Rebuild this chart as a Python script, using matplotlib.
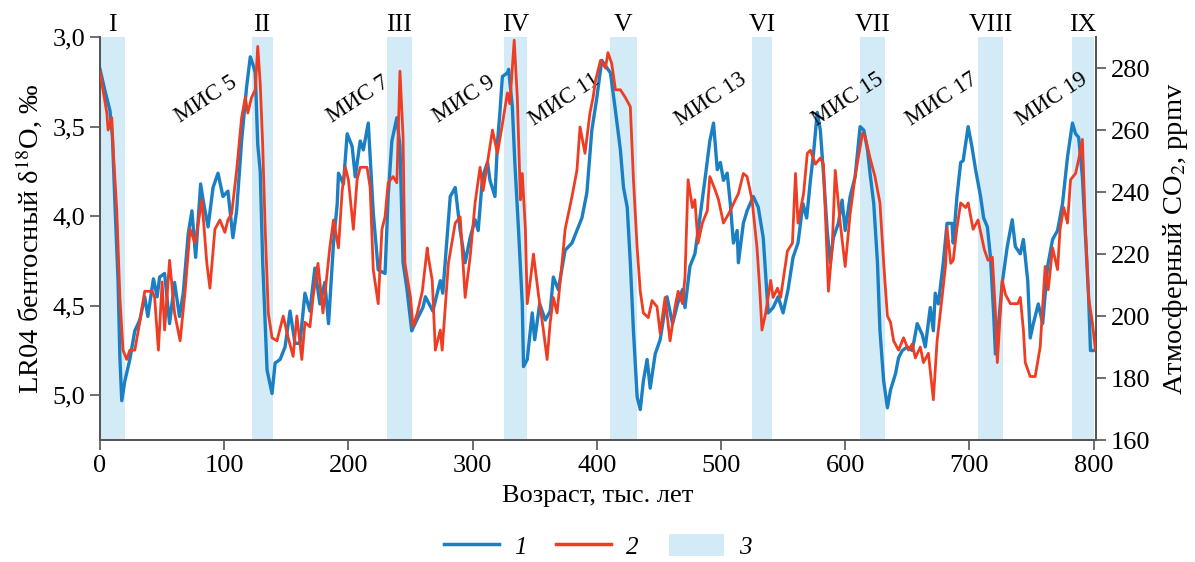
import matplotlib
matplotlib.use("Agg")
import matplotlib.pyplot as plt
from matplotlib.lines import Line2D
from matplotlib.patches import Patch
from matplotlib.ticker import FuncFormatter, MultipleLocator

# LR04 benthic d18O stack (blue, left axis, inverted)
blue_age = [0, 4, 8, 10, 12, 14.5, 16, 17.5, 20, 24, 28, 32, 36, 38.5, 43, 46, 48, 52, 56, 60,
            64, 67, 71, 74, 77, 81, 83, 87, 91, 95, 99, 103, 107, 110, 114, 118, 121, 123, 125, 127,
            129, 131, 134.5, 138.5, 141, 145, 149, 153, 157, 161, 165, 169, 173, 177, 181, 184, 188, 191, 192, 196,
            199, 203, 205.5, 209.5, 212, 216, 220, 224, 229.5, 232, 235, 239, 241.5, 244, 247, 251, 255, 260, 262, 268,
            274, 276, 282, 286, 290, 294, 298, 302, 304.5, 308, 312, 314, 318, 320, 322, 324, 328, 329, 332, 334,
            337, 340, 341, 344, 348, 350, 354, 358.5, 362.5, 365, 369, 374.5, 380, 384, 388, 392, 396, 400, 404, 408,
            411, 415, 419, 421.5, 424.5, 427, 429.5, 432.5, 435, 437.5, 440.5, 443, 447, 451, 453.5, 456.5, 461, 465, 469, 471,
            475, 479, 483, 487, 491, 494, 497, 499.5, 502, 505, 507.5, 510, 513, 514, 518, 521, 526, 530, 534, 538,
            542, 546, 550, 554, 558, 562, 566, 569, 572, 574.5, 577.5, 580, 582.5, 585.5, 588, 590.5, 594.5, 597.5, 600, 604,
            608, 612, 615, 618, 620, 623, 626, 628, 631, 634, 636.5, 640.5, 643, 646, 650, 654, 658, 662, 664.5, 668.5,
            671, 672.5, 675, 679, 682, 686, 687, 690, 693, 695, 699, 702, 705, 709, 711.5, 714.5, 717, 719.5, 721, 723.5,
            726.5, 730.5, 734.5, 737, 741, 743.5, 747, 749, 751.5, 755.5, 759, 763, 767, 771, 775, 779, 783, 785.5, 788, 791,
            793.5, 796, 797.5, 801.5]
blue_d18o = [3.18, 3.30, 3.41, 3.56, 3.93, 4.36, 4.79, 5.03, 4.92, 4.80, 4.64, 4.58, 4.45, 4.56, 4.35, 4.45, 4.34, 4.32, 4.60, 4.37,
             4.56, 4.43, 4.10, 3.97, 4.23, 3.82, 3.91, 4.06, 3.84, 3.76, 3.89, 3.86, 4.12, 3.97, 3.58, 3.28, 3.11, 3.15, 3.20, 3.60,
             3.75, 4.26, 4.86, 4.99, 4.82, 4.80, 4.73, 4.53, 4.71, 4.71, 4.43, 4.53, 4.29, 4.49, 4.37, 4.60, 4.15, 3.93, 3.76, 3.82,
             3.54, 3.61, 3.78, 3.58, 3.63, 3.48, 3.98, 4.30, 4.32, 3.89, 3.58, 3.45, 3.61, 4.26, 4.40, 4.64, 4.58, 4.51, 4.45, 4.53,
             4.36, 4.43, 3.89, 3.84, 4.08, 4.26, 4.12, 4.02, 4.08, 3.78, 3.70, 3.80, 3.89, 3.59, 3.42, 3.22, 3.20, 3.18, 3.39, 3.70,
             4.08, 4.49, 4.84, 4.80, 4.54, 4.69, 4.49, 4.58, 4.53, 4.34, 4.41, 4.19, 4.15, 4.08, 4.01, 3.87, 3.52, 3.34, 3.13, 3.17,
             3.20, 3.41, 3.63, 3.84, 3.95, 4.26, 4.64, 5.01, 5.08, 4.92, 4.80, 4.96, 4.77, 4.69, 4.58, 4.45, 4.60, 4.49, 4.41, 4.51,
             4.28, 4.21, 4.01, 3.80, 3.58, 3.48, 3.74, 3.70, 3.80, 3.76, 3.93, 4.15, 4.08, 4.26, 4.04, 3.97, 3.89, 3.95, 4.12, 4.54,
             4.51, 4.45, 4.54, 4.41, 4.23, 4.15, 3.93, 4.01, 3.80, 3.65, 3.42, 3.52, 3.76, 4.08, 4.26, 4.12, 4.04, 3.91, 4.08, 3.89,
             3.78, 3.50, 3.52, 3.63, 3.76, 3.93, 4.26, 4.64, 4.92, 5.07, 4.97, 4.88, 4.79, 4.75, 4.73, 4.75, 4.60, 4.66, 4.73, 4.51,
             4.64, 4.43, 4.49, 4.26, 4.04, 4.04, 4.15, 3.89, 3.70, 3.69, 3.50, 3.61, 3.74, 3.89, 4.01, 4.06, 4.23, 4.54, 4.77, 4.60,
             4.37, 4.17, 4.02, 4.17, 4.21, 4.13, 4.36, 4.68, 4.60, 4.49, 4.60, 4.28, 4.13, 4.08, 3.93, 3.67, 3.48, 3.54, 3.56, 3.78,
             4.12, 4.45, 4.75, 4.75]

# atmospheric CO2 (red, right axis)
red_age = [0, 5.5, 6.5, 9.5, 10.5, 13.5, 16, 18.5, 21.5, 24, 28, 32, 36, 42, 44, 47, 50, 52, 56, 60,
           64.5, 68.5, 72.5, 76.5, 82, 86, 88.5, 92.5, 96.5, 100.5, 103, 106, 110, 114, 117, 119, 122, 125, 127, 129,
           131, 133, 135.5, 138.5, 142.5, 147.5, 151.5, 155.5, 158.5, 162.5, 165, 169, 171.5, 175.5, 179.5, 185, 188, 192, 195, 197.5,
           200, 204, 207, 209.5, 215, 217.5, 220, 224, 227, 229.5, 232, 236, 239, 241.5, 244, 245.5, 250, 252, 255.5, 259.5,
           263.5, 264, 267.5, 270, 274, 275.5, 280.5, 286, 290, 294, 298, 302, 306, 308.5, 312.5, 316, 320, 324, 328, 330,
           333.5, 336, 338.5, 340, 342.5, 344, 346.5, 349, 353, 357, 360, 362.5, 365, 368, 372, 374.5, 380, 384, 386.5, 390.5,
           394.5, 397, 399, 403, 407, 409, 412, 415, 419, 423, 427, 429.5, 432.5, 435, 437.5, 441.5, 444.5, 448.5, 451, 455,
           459, 463, 465.5, 469, 471, 473.5, 477, 479, 481.5, 485, 489, 491, 495.5, 498, 502, 507.5, 511.5, 514, 518, 521,
           525, 529, 531, 533, 536, 540, 542, 545.5, 548, 553.5, 557.5, 560, 562, 566.5, 569.5, 572, 576, 580, 582.5, 586.5,
           589.5, 592, 596, 600, 604, 608, 610.5, 614, 616, 620, 624, 628, 631, 634, 636.5, 639, 643, 647, 651, 654,
           656.5, 660.5, 663, 667, 671, 674, 678, 681, 682, 685, 687, 690, 693, 697, 699, 703, 707, 712, 715, 718.5,
           721, 722.5, 726.5, 729, 733, 739, 741, 743.5, 745, 749, 753, 757, 761, 763.5, 767, 771, 773, 776, 779, 781.5,
           785.5, 788, 791, 793.5, 796, 799, 801.5]
red_co2 = [278.7, 265.5, 260, 264, 254.5, 234, 206, 189, 186, 189, 189, 198, 208, 208, 206, 189, 211, 195.5, 218, 201,
           192, 208, 228, 223.5, 237.5, 217, 209, 228, 231, 227, 231, 233, 247, 264, 270.5, 265.5, 270.5, 273, 287, 275,
           255, 228, 201, 193, 192, 200, 193, 187, 200, 186, 198, 196.5, 206, 217, 201, 222, 231, 222, 240.5, 248,
           244, 228, 244, 248, 248, 241.5, 215, 204, 228, 232, 243, 245, 243, 279, 258, 217, 206, 196.5, 201, 208,
           222, 220, 211.5, 189, 195.5, 189, 217, 230, 232, 206, 219, 236.5, 248, 240.5, 251, 260, 252.5, 262, 272, 268.5,
           289, 270.5, 237.5, 246, 228, 204, 211.5, 220, 207, 195.5, 186, 198, 206, 201, 217, 228, 238.5, 247, 261, 252.5,
           265.5, 270.5, 276, 282.5, 280, 285, 281.5, 273, 273, 270.5, 267.5, 244, 222, 208, 201, 199.5, 205, 203, 194.5, 206,
           192, 203, 208, 204, 212.5, 244, 235, 237.5, 223.5, 230, 234, 245, 240.5, 237.5, 230, 234, 237.5, 239.5, 246, 245,
           237.5, 222, 210, 195.5, 201, 211.5, 206, 209, 206, 221, 223.5, 246, 230, 239.5, 252.5, 253.5, 249, 251, 249, 208,
           222, 247, 230, 216, 233, 245, 251, 259, 258, 251, 245, 236.5, 217, 200, 198, 192, 189, 193, 189, 191,
           186.5, 190, 185, 188, 173, 192, 206, 217, 228.5, 217, 218, 228.5, 236.5, 235, 236.5, 228, 231, 221.5, 218, 219,
           201, 185, 211.5, 207, 204, 204, 206, 195.5, 185, 180.5, 180.5, 190, 216, 208.5, 222, 215, 228, 235, 230, 244,
           246, 250.5, 257, 228, 206, 198, 189]

# interglacials (shaded bands) and labels
band_start = [0, 122, 231, 325, 411, 525, 612, 707, 783]
band_end = [20, 139, 251, 344, 432, 541, 632, 727, 800]
band_names = ["I", "II", "III", "IV", "V", "VI", "VII", "VIII", "IX"]

mis_names = ["МИС 5", "МИС 7", "МИС 9", "МИС 11", "МИС 13", "МИС 15", "МИС 17", "МИС 19"]
mis_age = [85, 208, 293, 374, 492, 602, 678, 766]

BLUE = "#1a7fc3"
RED = "#ee3d22"
SHADE = "#d3ebf7"
SPINE = "#555555"

plt.rcParams["font.family"] = ["Liberation Serif", "DejaVu Serif"]
plt.rcParams["mathtext.fontset"] = "stix"

fig = plt.figure(figsize=(11.95, 5.62), dpi=100)
ax = fig.add_axes([0.0837, 0.217, 0.8335, 0.717])
ax2 = ax.twinx()

for s, e in zip(band_start, band_end):
    ax.axvspan(s, e, color=SHADE, lw=0, zorder=0)
for s, e, name in zip(band_start, band_end, band_names):
    ax.text((s + e) / 2, 1.003, name, transform=ax.get_xaxis_transform(),
            ha="center", va="bottom", fontsize=18.5)

ax.plot(blue_age, blue_d18o, color=BLUE, lw=2.4, zorder=2)
ax2.plot(red_age, red_co2, color=RED, lw=2.0, zorder=3)

for name, a in zip(mis_names, mis_age):
    ax.text(a, 3.35, name, rotation=33, ha="center", va="center", fontsize=16.5, zorder=5)

ax.set_xlim(0, 802)
ax.set_ylim(5.25, 3.0)
ax2.set_ylim(160, 290)

ax.xaxis.set_major_locator(MultipleLocator(100))
ax.yaxis.set_major_locator(MultipleLocator(0.5))
ax.yaxis.set_major_formatter(FuncFormatter(lambda v, p: f"{v:.1f}".replace(".", ",")))
ax2.yaxis.set_major_locator(MultipleLocator(20))

for a in (ax, ax2):
    a.spines["top"].set_visible(False)
    for sp in a.spines.values():
        sp.set_color(SPINE)
        sp.set_linewidth(1.3)
    a.tick_params(direction="out", length=7, width=1.2, color=SPINE, labelsize=19)

ax.set_xlabel("Возраст, тыс. лет", fontsize=19, labelpad=6)
ax.set_ylabel("LR04 бентосный δ$^{18}$O, ‰", fontsize=20.5, labelpad=6)
ax2.set_ylabel("Атмосферный CO$_2$, ppmv", fontsize=20.5, labelpad=8)

handles = [Line2D([], [], color=BLUE, lw=2.5),
           Line2D([], [], color=RED, lw=2.5),
           Patch(facecolor=SHADE, edgecolor="none")]
fig.legend(handles, ["1", "2", "3"], loc="center", bbox_to_anchor=(0.5, 0.028), ncol=3,
           frameon=False, handlelength=2.2, handleheight=1.0, handletextpad=0.6,
           columnspacing=1.2, prop={"style": "italic", "size": 18})

fig.savefig("out.png", dpi=100)
